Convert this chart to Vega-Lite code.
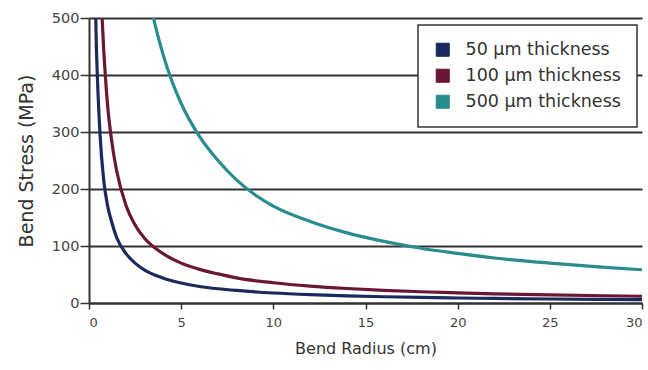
{
  "$schema": "https://vega.github.io/schema/vega-lite/v6.json",
  "width": 553,
  "height": 285,
  "autosize": {"type": "none"},
  "padding": {"left": 89, "top": 18, "right": 6, "bottom": 67},
  "background": "white",
  "config": {
    "view": {"stroke": null},
    "font": "DejaVu Sans",
    "legend": {"strokeWidth": 1.5}
  },
  "data": {
    "values": [
      {"r": 0.3, "s": 600, "series": "50 µm thickness"},
      {"r": 0.4, "s": 450, "series": "50 µm thickness"},
      {"r": 0.5, "s": 360, "series": "50 µm thickness"},
      {"r": 0.6, "s": 295, "series": "50 µm thickness"},
      {"r": 0.8, "s": 215, "series": "50 µm thickness"},
      {"r": 1, "s": 172, "series": "50 µm thickness"},
      {"r": 1.25, "s": 140, "series": "50 µm thickness"},
      {"r": 1.5, "s": 115, "series": "50 µm thickness"},
      {"r": 2, "s": 87, "series": "50 µm thickness"},
      {"r": 2.5, "s": 70, "series": "50 µm thickness"},
      {"r": 3, "s": 58, "series": "50 µm thickness"},
      {"r": 4, "s": 44, "series": "50 µm thickness"},
      {"r": 5, "s": 35, "series": "50 µm thickness"},
      {"r": 6, "s": 29, "series": "50 µm thickness"},
      {"r": 7, "s": 25, "series": "50 µm thickness"},
      {"r": 8, "s": 22, "series": "50 µm thickness"},
      {"r": 10, "s": 17.5, "series": "50 µm thickness"},
      {"r": 12, "s": 14.6, "series": "50 µm thickness"},
      {"r": 14, "s": 12.5, "series": "50 µm thickness"},
      {"r": 16, "s": 11, "series": "50 µm thickness"},
      {"r": 18, "s": 9.7, "series": "50 µm thickness"},
      {"r": 20, "s": 8.8, "series": "50 µm thickness"},
      {"r": 22, "s": 8, "series": "50 µm thickness"},
      {"r": 25, "s": 7, "series": "50 µm thickness"},
      {"r": 28, "s": 6.3, "series": "50 µm thickness"},
      {"r": 30, "s": 5.8, "series": "50 µm thickness"},
      {"r": 0.6, "s": 592, "series": "100 µm thickness"},
      {"r": 0.7, "s": 507, "series": "100 µm thickness"},
      {"r": 0.8, "s": 444, "series": "100 µm thickness"},
      {"r": 1, "s": 350, "series": "100 µm thickness"},
      {"r": 1.25, "s": 280, "series": "100 µm thickness"},
      {"r": 1.5, "s": 232, "series": "100 µm thickness"},
      {"r": 2, "s": 172, "series": "100 µm thickness"},
      {"r": 2.5, "s": 137, "series": "100 µm thickness"},
      {"r": 3, "s": 114, "series": "100 µm thickness"},
      {"r": 4, "s": 87, "series": "100 µm thickness"},
      {"r": 5, "s": 70, "series": "100 µm thickness"},
      {"r": 6, "s": 59, "series": "100 µm thickness"},
      {"r": 7, "s": 51, "series": "100 µm thickness"},
      {"r": 8, "s": 44, "series": "100 µm thickness"},
      {"r": 10, "s": 35.5, "series": "100 µm thickness"},
      {"r": 12, "s": 29.6, "series": "100 µm thickness"},
      {"r": 14, "s": 25.4, "series": "100 µm thickness"},
      {"r": 16, "s": 22.2, "series": "100 µm thickness"},
      {"r": 18, "s": 19.7, "series": "100 µm thickness"},
      {"r": 20, "s": 17.8, "series": "100 µm thickness"},
      {"r": 22, "s": 16.1, "series": "100 µm thickness"},
      {"r": 25, "s": 14.2, "series": "100 µm thickness"},
      {"r": 28, "s": 12.7, "series": "100 µm thickness"},
      {"r": 30, "s": 11.8, "series": "100 µm thickness"},
      {"r": 3.2, "s": 547, "series": "500 µm thickness"},
      {"r": 3.5, "s": 500, "series": "500 µm thickness"},
      {"r": 4, "s": 438, "series": "500 µm thickness"},
      {"r": 4.5, "s": 389, "series": "500 µm thickness"},
      {"r": 5, "s": 350, "series": "500 µm thickness"},
      {"r": 6, "s": 292, "series": "500 µm thickness"},
      {"r": 7, "s": 250, "series": "500 µm thickness"},
      {"r": 8, "s": 216, "series": "500 µm thickness"},
      {"r": 9, "s": 190, "series": "500 µm thickness"},
      {"r": 10, "s": 170, "series": "500 µm thickness"},
      {"r": 12, "s": 143, "series": "500 µm thickness"},
      {"r": 14, "s": 123, "series": "500 µm thickness"},
      {"r": 16, "s": 108, "series": "500 µm thickness"},
      {"r": 18, "s": 96, "series": "500 µm thickness"},
      {"r": 20, "s": 87, "series": "500 µm thickness"},
      {"r": 22, "s": 79, "series": "500 µm thickness"},
      {"r": 25, "s": 70, "series": "500 µm thickness"},
      {"r": 28, "s": 62.5, "series": "500 µm thickness"},
      {"r": 30, "s": 58.3, "series": "500 µm thickness"}
    ]
  },
  "mark": {"type": "line", "strokeWidth": 3.2, "interpolate": "monotone", "clip": true},
  "encoding": {
    "x": {
      "field": "r", "type": "quantitative",
      "scale": {"domain": [0, 30], "nice": false},
      "axis": {
        "title": "Bend Radius (cm)", "values": [0, 5, 10, 15, 20, 25, 30],
        "grid": false, "domainColor": "#333", "domainWidth": 2,
        "tickColor": "#333", "tickSize": 6, "tickWidth": 1.5,
        "labelFontSize": 13, "labelColor": "#444", "labelPadding": 7,
        "titleFontSize": 16, "titleFontWeight": "normal", "titleColor": "#333", "titlePadding": 11
      }
    },
    "y": {
      "field": "s", "type": "quantitative",
      "scale": {"domain": [0, 500], "nice": false},
      "axis": {
        "title": "Bend Stress (MPa)", "values": [0, 100, 200, 300, 400, 500],
        "grid": true, "gridColor": "#333", "gridWidth": 2, "gridOpacity": 1,
        "domainColor": "#333", "domainWidth": 2,
        "tickColor": "#333", "tickSize": 9, "tickWidth": 1.5,
        "labelFontSize": 14.5, "labelColor": "#444", "labelPadding": 1,
        "titleFontSize": 19, "titleFontWeight": "normal", "titleColor": "#333", "titlePadding": 15
      }
    },
    "color": {
      "field": "series", "type": "nominal",
      "scale": {
        "domain": ["50 µm thickness", "100 µm thickness", "500 µm thickness"],
        "range": ["#1b2a5c", "#6b1636", "#2a8c8f"]
      },
      "legend": {
        "title": null, "orient": "none", "legendX": 329, "legendY": 7,
        "direction": "vertical",
        "fillColor": "white", "strokeColor": "#333",
        "padding": 16, "rowPadding": 7,
        "symbolType": "square", "symbolSize": 170, "symbolStrokeWidth": 1,
        "labelFontSize": 17.5, "labelColor": "#333", "labelOffset": 14,
        "symbolOpacity": 1,
        "encode": {"symbols": {"update": {"fill": {"scale": "color", "field": "value"}, "fillOpacity": {"value": 1}}}}
      }
    }
  }
}
